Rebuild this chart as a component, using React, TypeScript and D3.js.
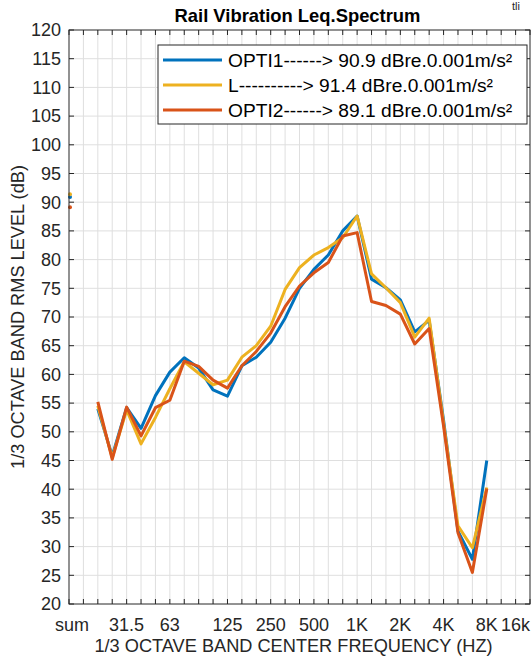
import * as d3 from 'd3';

// band slots on the x axis: slot 0 = overall sum, slots 2..29 = 1/3 octave bands
const bandSlots = [2, 3, 4, 5, 6, 7, 8, 9, 10, 11, 12, 13, 14, 15, 16, 17, 18, 19, 20, 21, 22, 23, 24, 25, 26, 27, 28, 29];

const opti1 = [54.0, 45.8, 54.2, 50.6, 56.3, 60.4, 62.9, 61.1, 57.3, 56.2, 61.5, 63.0, 65.6, 69.8, 75.0, 78.3, 80.8, 85.0, 87.6, 76.6, 75.1, 73.0, 67.4, 69.4, 52.0, 32.7, 27.8, 45.0];
const lSeries = [54.5, 45.5, 53.8, 47.9, 52.5, 57.5, 62.2, 60.2, 58.2, 59.0, 63.0, 65.0, 68.4, 74.8, 78.6, 80.8, 82.1, 83.8, 87.6, 77.5, 75.1, 72.5, 66.5, 69.8, 51.5, 33.6, 29.8, 40.3];
const opti2 = [55.2, 45.2, 54.3, 49.3, 54.2, 55.5, 62.3, 61.4, 59.0, 57.6, 61.5, 64.0, 67.2, 71.8, 75.4, 77.7, 79.5, 84.1, 84.7, 72.7, 72.0, 70.5, 65.3, 68.0, 51.0, 32.4, 25.5, 40.1];

const sumValues = [90.9, 91.4, 89.1];
const seriesNames = ['OPTI1------> 90.9 dBre.0.001m/s²', 'L----------> 91.4 dBre.0.001m/s²', 'OPTI2------> 89.1 dBre.0.001m/s²'];
const seriesColors = ['#0072BD', '#EDB120', '#D95319'];

const xTickSlots = [0, 4, 7, 11, 14, 17, 20, 23, 26, 29, 31];
const xTickLabels = ['sum', '31.5', '63', '125', '250', '500', '1K', '2K', '4K', '8K', '16k'];
const yTicks = [20, 25, 30, 35, 40, 45, 50, 55, 60, 65, 70, 75, 80, 85, 90, 95, 100, 105, 110, 115, 120];

const W = 532;
const H = 662;
const left = 69, right = 530, top = 30, bottom = 604;
const font = "'Liberation Sans', Arial, Helvetica, sans-serif";
const axisColor = '#262626';

export default function App() {
  const x = d3.scaleLinear().domain([0, 32]).range([left, right]);
  const y = d3.scaleLinear().domain([20, 120]).range([bottom, top]);
  const allSlots = d3.range(0, 33);
  const series = [opti1, lSeries, opti2];
  const line = d3.line<number>()
    .x((d, i) => x(bandSlots[i]))
    .y(d => y(d));

  const tickLen = 5;
  const lgX = 158, lgY = 45, lgW = 369, lgH = 79;

  return (
    <svg width={W} height={H} style={{ position: 'absolute', left: 0, top: 0, background: '#fff' }} fontFamily={font}>
      <rect x={0} y={0} width={W} height={H} fill="#fff" />
      <text x={512} y={10} fontSize={11} fill={axisColor}>tli</text>

      {/* grid */}
      <g stroke="#dfdfdf" strokeWidth={1}>
        {allSlots.slice(1, -1).map(s => (
          <line key={'gx' + s} x1={x(s)} x2={x(s)} y1={top} y2={bottom} />
        ))}
        {yTicks.slice(1, -1).map(t => (
          <line key={'gy' + t} x1={left} x2={right} y1={y(t)} y2={y(t)} />
        ))}
      </g>

      {/* ticks */}
      <g stroke={axisColor} strokeWidth={1}>
        {allSlots.map(s => (
          <g key={'tx' + s}>
            <line x1={x(s)} x2={x(s)} y1={bottom} y2={bottom - tickLen} />
            <line x1={x(s)} x2={x(s)} y1={top} y2={top + tickLen} />
          </g>
        ))}
        {yTicks.map(t => (
          <g key={'ty' + t}>
            <line x1={left} x2={left + tickLen} y1={y(t)} y2={y(t)} />
            <line x1={right} x2={right - tickLen} y1={y(t)} y2={y(t)} />
          </g>
        ))}
      </g>

      {/* series */}
      {series.map((s, k) => (
        <path key={'s' + k} d={line(s) || ''} fill="none" stroke={seriesColors[k]} strokeWidth={3} strokeLinejoin="round" />
      ))}
      {sumValues.map((v, k) => (
        <circle key={'sum' + k} cx={x(0) + 1} cy={y(v)} r={2} fill={seriesColors[k]} />
      ))}

      {/* box */}
      <rect x={left} y={top} width={right - left} height={bottom - top} fill="none" stroke={axisColor} strokeWidth={1} />

      {/* tick labels */}
      {yTicks.map(t => (
        <text key={'yl' + t} x={left - 8} y={y(t)} dy="0.35em" textAnchor="end" fontSize={18} fill={axisColor}>{t}</text>
      ))}
      {xTickSlots.map((s, i) => (
        <text key={'xl' + s} x={x(s) + (i === 0 ? 3 : 0)} y={bottom + 27} textAnchor="middle" fontSize={18} fill={axisColor}>{xTickLabels[i]}</text>
      ))}

      {/* labels */}
      <text x={(left + right) / 2 - 2} y={22} textAnchor="middle" fontSize={18.4} fontWeight="bold" fill="#000">Rail Vibration Leq.Spectrum</text>
      <text x={(left + right) / 2 - 6} y={652} textAnchor="middle" fontSize={18.2} fill={axisColor}>1/3 OCTAVE BAND CENTER FREQUENCY (HZ)</text>
      <text transform={`translate(24,${(top + bottom) / 2}) rotate(-90)`} textAnchor="middle" fontSize={18.2} fill={axisColor}>1/3 OCTAVE BAND RMS LEVEL (dB)</text>

      {/* legend */}
      <rect x={lgX} y={lgY} width={lgW} height={lgH} fill="#fff" stroke={axisColor} strokeWidth={1} />
      {seriesNames.map((n, k) => (
        <g key={'lg' + k} transform={`translate(${lgX},${lgY + 15 + k * 25})`}>
          <line x1={5} x2={64} y1={0} y2={0} stroke={seriesColors[k]} strokeWidth={3} />
          <text x={70} y={0} dy="0.35em" fontSize={19.2} fill="#000">{n}</text>
        </g>
      ))}
    </svg>
  );
}
